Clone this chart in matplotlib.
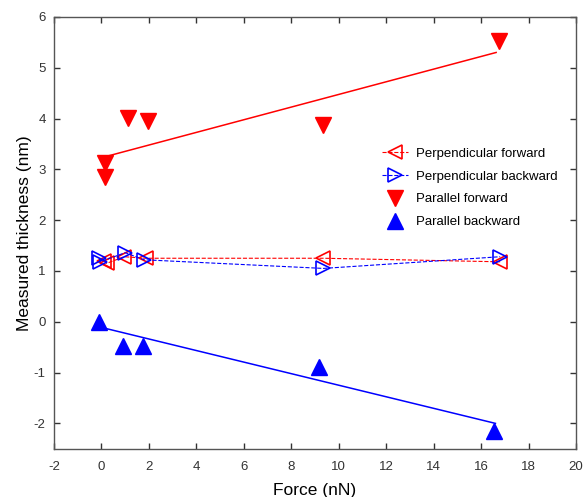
import numpy as np
import matplotlib.pyplot as plt

plt.rcParams['font.family'] = ['Liberation Sans', 'DejaVu Sans']
plt.rcParams['axes.unicode_minus'] = False

# Perpendicular (open triangles, dashed)
perp_fwd_x = [0.1, 0.22, 0.96, 1.86, 9.35, 16.8]
perp_fwd_y = [1.20, 1.15, 1.28, 1.25, 1.25, 1.18]
perp_bwd_x = [-0.1, -0.05, 1.0, 1.79, 9.35, 16.8]
perp_bwd_y = [1.25, 1.18, 1.36, 1.22, 1.05, 1.28]

# Parallel (filled triangles)
par_fwd_x = [0.14, 0.14, 1.11, 1.96, 9.33, 16.73]
par_fwd_y = [3.12, 2.85, 4.02, 3.95, 3.88, 5.53]
par_bwd_x = [-0.11, 0.91, 1.75, 9.15, 16.52]
par_bwd_y = [0.0, -0.48, -0.48, -0.89, -2.15]

# linear fits (end points)
fit_fwd_x = [0.17, 16.63]
fit_fwd_y = [3.25, 5.30]
fit_bwd_x = [-0.1, 16.6]
fit_bwd_y = [-0.10, -2.00]

fig = plt.figure(figsize=(5.88, 4.97), dpi=100)
ax = fig.add_axes([0.0918, 0.097, 0.888, 0.869])

ax.plot(perp_fwd_x, perp_fwd_y, '--', color='red', lw=0.8, marker='<',
        ms=10.5, mfc='none', mec='red', mew=1.2, label='Perpendicular forward')
ax.plot(perp_bwd_x, perp_bwd_y, '--', color='blue', lw=0.8, marker='>',
        ms=10.5, mfc='none', mec='blue', mew=1.2, label='Perpendicular backward')
ax.plot(par_fwd_x, par_fwd_y, 'v', color='red', ms=11, label='Parallel forward')
ax.plot(par_bwd_x, par_bwd_y, '^', color='blue', ms=11, label='Parallel backward')

ax.plot(fit_fwd_x, fit_fwd_y, '-', color='red', lw=1.1)
ax.plot(fit_bwd_x, fit_bwd_y, '-', color='blue', lw=1.1)

ax.set_xlim(-2, 20)
ax.set_ylim(-2.5, 6)
ax.set_xticks(np.arange(-2, 21, 2))
ax.set_yticks(np.arange(-2, 7, 1))
ax.tick_params(direction='in', top=True, right=True, length=4, width=1,
               labelsize=9.5, colors='#333333')
ax.tick_params(axis='x', pad=9)
ax.tick_params(axis='y', pad=6)
for s in ax.spines.values():
    s.set_color('#555555')
    s.set_linewidth(1)

ax.set_xlabel('Force (nN)', fontsize=12.5, labelpad=7)
ax.set_ylabel('Measured thickness (nm)', fontsize=12.5, labelpad=1)

ax.legend(loc='upper left', bbox_to_anchor=(0.605, 0.725), frameon=False,
          fontsize=9.5, handlelength=2.0, handletextpad=0.6, labelspacing=0.8)

fig.savefig('out.png', dpi=100)
